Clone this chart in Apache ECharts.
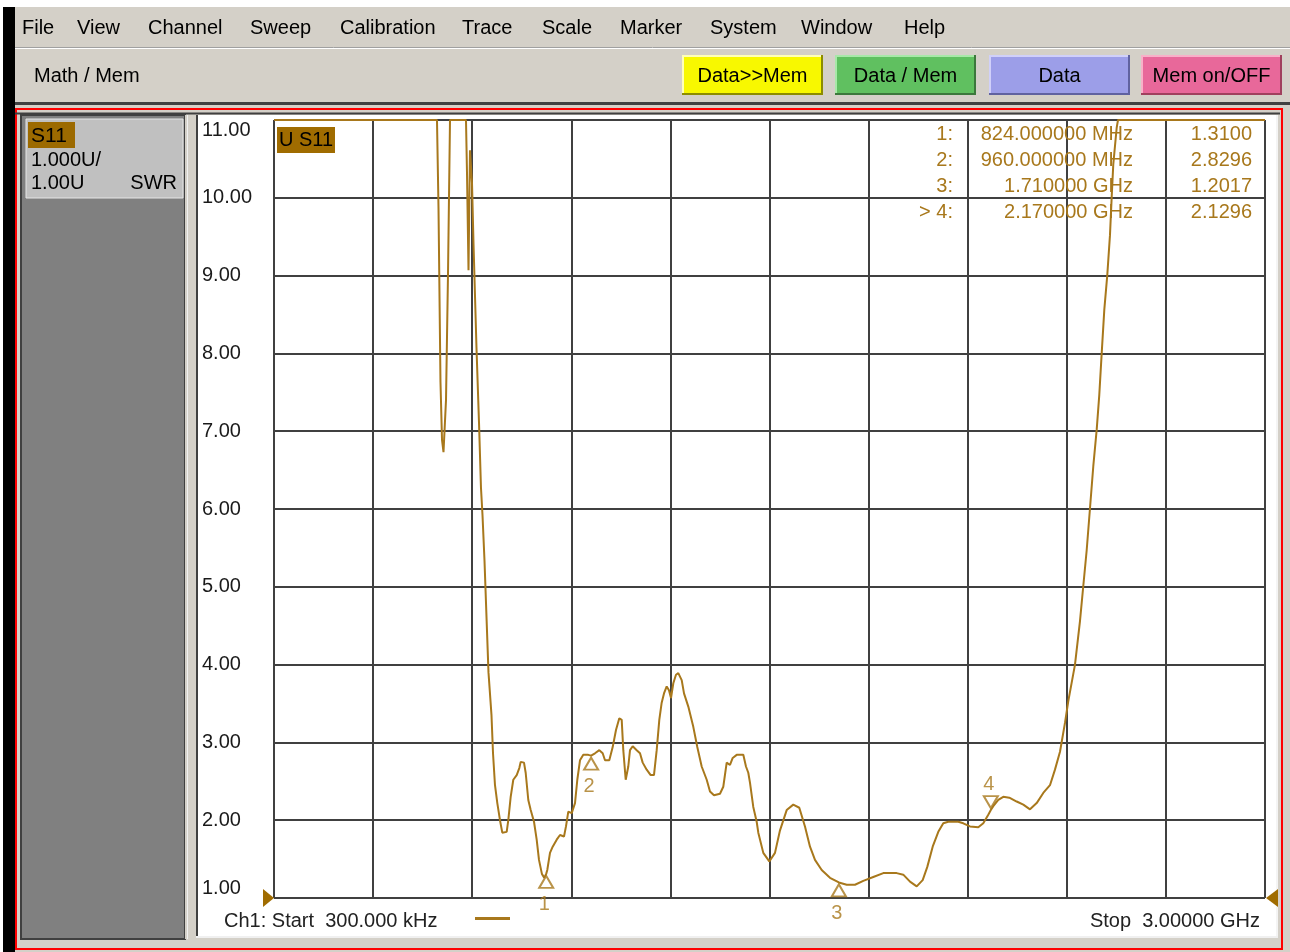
<!DOCTYPE html>
<html><head><meta charset="utf-8">
<script src="https://cdn.jsdelivr.net/npm/echarts@6/dist/echarts.min.js"></script>
<style>html,body{margin:0;padding:0;background:#fff;overflow:hidden}#c{width:1290px;height:952px}</style>
</head><body><div id="c"></div>
<script>
// ---------- DATA ----------
// Trace: frequency (MHz) and SWR as displayed (values above 11 shown clamped at the top)
const freqMHz = [
  0.3, 493.4, 498.0, 504.0, 508.6, 513.1, 520.7, 526.7, 532.8, 581.2,
  584.2, 588.8, 593.3, 599.4, 603.9, 613.0, 620.6, 626.6, 631.2, 637.2,
  643.3, 649.3, 658.4, 663.0, 669.0, 676.0, 684.1, 691.1, 704.4, 709.3,
  716.5, 724.4, 734.7, 742.6, 746.8, 756.8, 761.9, 769.8, 777.1, 787.1,
  795.2, 802.2, 811.0, 818.0, 824.0, 827.3, 835.5, 843.7, 855.8, 865.8,
  877.9, 883.9, 890.9, 901.2, 911.2, 918.2, 926.3, 936.3, 951.4, 960.0,
  971.7, 984.8, 995.0, 1002.0, 1015.0, 1025.3, 1035.3, 1045.3, 1052.6, 1057.4,
  1064.7, 1072.5, 1077.7, 1085.9, 1098.0, 1108.0, 1116.1, 1128.2, 1140.3, 1150.3,
  1158.5, 1166.4, 1173.6, 1180.6, 1188.8, 1195.7, 1201.8, 1208.8, 1216.9, 1223.9,
  1234.2, 1241.2, 1254.2, 1269.3, 1281.4, 1294.7, 1309.9, 1319.9, 1332.0, 1350.1,
  1360.1, 1370.4, 1380.4, 1388.6, 1400.7, 1420.7, 1428.8, 1435.8, 1441.0, 1450.9,
  1461.2, 1466.1, 1481.2, 1499.4, 1516.6, 1531.8, 1552.0, 1572.0, 1590.2, 1607.4,
  1622.6, 1637.7, 1658.0, 1683.1, 1710.0, 1733.7, 1758.8, 1783.9, 1814.2, 1844.5,
  1885.0, 1905.0, 1925.3, 1945.6, 1963.7, 1977.7, 1994.0, 2011.0, 2026.1, 2041.2,
  2071.5, 2086.6, 2106.9, 2132.1, 2147.2, 2162.3, 2170.0, 2177.5, 2192.6, 2207.7,
  2225.9, 2248.3, 2268.3, 2288.6, 2308.8, 2328.8, 2349.1, 2364.2, 2379.4, 2394.5,
  2404.5, 2424.8, 2439.9, 2449.9, 2460.2, 2470.2, 2480.2, 2490.5, 2498.4, 2505.6,
  2513.5, 2522.6, 2530.7, 2535.9, 2540.7, 2551.0, 2555.0, 3000
];
const swr = [
  11, 11, 9.87, 7.63, 6.89, 6.73, 7.40, 9.01, 11, 11,
  10.33, 9.07, 10.61, 10.19, 9.42, 8.07, 7.11, 6.27, 5.92, 5.34,
  4.61, 3.90, 3.35, 2.86, 2.45, 2.22, 2.00, 1.84, 1.85, 2.00,
  2.30, 2.52, 2.58, 2.67, 2.75, 2.74, 2.61, 2.26, 2.13, 1.98,
  1.75, 1.49, 1.31, 1.26, 1.31, 1.36, 1.58, 1.66, 1.75, 1.81,
  1.79, 1.92, 2.11, 2.09, 2.22, 2.52, 2.77, 2.84, 2.84, 2.83,
  2.86, 2.90, 2.86, 2.77, 2.77, 2.94, 3.16, 3.31, 3.29, 2.90,
  2.52, 2.69, 2.90, 2.95, 2.90, 2.86, 2.74, 2.65, 2.58, 2.58,
  2.90, 3.29, 3.51, 3.63, 3.72, 3.67, 3.57, 3.76, 3.87, 3.89,
  3.80, 3.63, 3.46, 3.20, 2.94, 2.69, 2.52, 2.37, 2.32, 2.34,
  2.43, 2.74, 2.71, 2.80, 2.84, 2.84, 2.69, 2.61, 2.48, 2.17,
  1.98, 1.84, 1.58, 1.47, 1.58, 1.87, 2.13, 2.20, 2.16, 1.92,
  1.66, 1.49, 1.36, 1.26, 1.20, 1.17, 1.17, 1.22, 1.27, 1.32,
  1.32, 1.30, 1.21, 1.15, 1.23, 1.40, 1.66, 1.85, 1.96, 1.98,
  1.98, 1.96, 1.92, 1.91, 1.96, 2.07, 2.13, 2.18, 2.26, 2.30,
  2.29, 2.24, 2.20, 2.14, 2.22, 2.35, 2.45, 2.65, 2.88, 3.25,
  3.53, 4.00, 4.56, 5.01, 5.47, 6.01, 6.55, 7.02, 7.47, 8.00,
  8.56, 9.01, 9.52, 10.01, 10.43, 10.90, 11, 11
];
// Markers
const markerIds = ['1', '2', '3', '4'];
const markerFreqMHz = [824, 960, 1710, 2170];
const markerSwr = [1.3100, 2.8296, 1.2017, 2.1296];
const activeMarker = 3; // index of "> 4"
// Axis / sweep settings
const yMin = 1, yMax = 11, yStep = 1;
const startMHz = 0.3, stopMHz = 3000, xDivMHz = 300;
// UI texts
const menuItems = ['File', 'View', 'Channel', 'Sweep', 'Calibration', 'Trace', 'Scale', 'Marker', 'System', 'Window', 'Help'];
const buttonLabels = ['Data>>Mem', 'Data / Mem', 'Data', 'Mem on/OFF'];
const traceName = 'S11';
const scaleText = ['1.000U/', '1.00U', 'SWR'];

// ---------- LAYOUT / STYLE ----------
const FONT = '"Liberation Sans", Arial, sans-serif';
const TRACE = '#a8781c';
const menuX = [22, 77, 148, 250, 340, 462, 542, 620, 710, 801, 904];
const btnX = [682, 835, 989, 1141];
const btnFill = ['#f8f800', '#60c060', '#9c9ee8', '#e8689a'];
const btnLight = ['#ffffb8', '#a8e8a8', '#d0d0fa', '#f8b0c8'];
const btnDark = ['#8c8c00', '#3c783c', '#6062a0', '#a0405e'];

function R(x, y, w, h, fill, extra, z) {
  return { type: 'rect', silent: true, z: z === undefined ? -1 : z, shape: { x, y, width: w, height: h }, style: Object.assign({ fill }, extra || {}) };
}
function L(x1, y1, x2, y2, stroke, w, z) {
  return { type: 'line', silent: true, z: z === undefined ? -1 : z, shape: { x1, y1, x2, y2 }, style: { stroke, lineWidth: w || 1 } };
}
function T(x, y, text, o) {
  o = o || {};
  return { type: 'text', silent: true, z: o.z === undefined ? 1 : o.z, x, y,
    style: { text, fill: o.fill || '#111', fontSize: o.size || 20, fontFamily: FONT, align: o.align || 'left', verticalAlign: 'middle' } };
}
function fmtFreq(mhz) {
  return mhz < 1000 ? mhz.toFixed(6) + ' MHz' : (mhz / 1000).toFixed(6) + ' GHz';
}

const g = [];
// window chrome
g.push(R(3, 7, 12, 945, '#000'));
g.push(R(15, 7, 1275, 40, '#d4d0c8'));
g.push(L(15, 47.5, 1290, 47.5, '#a0a0a0', 1));
g.push(L(15, 48.5, 1290, 48.5, '#ffffff', 1));
g.push(R(15, 49, 1275, 53, '#d4d0c8'));
g.push(R(15, 102, 1275, 3, '#404040'));
g.push(R(15, 105, 1275, 847, '#d4d0c8'));
g.push(R(16, 109, 1266, 840, 'none', { stroke: '#ff0000', lineWidth: 2 }));
g.push(L(15, 113.5, 1280, 113.5, '#404040', 2));
// menu
menuItems.forEach((m, i) => g.push(T(menuX[i], 28, m, { fill: '#000' })));
// toolbar
g.push(T(34, 76, 'Math / Mem', { fill: '#000' }));
buttonLabels.forEach((b, i) => {
  const x = btnX[i], y = 55, w = 141, h = 40;
  g.push(R(x, y, w, h, btnFill[i]));
  g.push(L(x, y + 1, x + w, y + 1, btnLight[i], 2));
  g.push(L(x + 1, y, x + 1, y + h, btnLight[i], 2));
  g.push(L(x, y + h - 1, x + w, y + h - 1, btnDark[i], 2));
  g.push(L(x + w - 1, y, x + w - 1, y + h, btnDark[i], 2));
  g.push(T(x + w / 2, y + h / 2 + 1, b, { fill: '#000', align: 'center' }));
});
// left channel panel
g.push(R(21, 115, 164, 824, '#808080', { stroke: '#404040', lineWidth: 2 }));
g.push(R(26, 119, 157, 79, '#c0c0c0', { stroke: '#e6e6e6', lineWidth: 1 }));
g.push(R(28, 122, 47, 26, '#9c6a00'));
g.push(T(31, 136, traceName, { fill: '#000', size: 21 }));
g.push(T(31, 160, scaleText[0], { fill: '#000' }));
g.push(T(31, 183, scaleText[1], { fill: '#000' }));
g.push(T(177, 183, scaleText[2], { fill: '#000', align: 'right' }));
// separator
g.push(R(185, 115, 11, 824, '#d4d0c8'));
g.push(L(187.5, 115, 187.5, 939, '#f0f0f0', 1));
// plot panel
g.push(R(196, 115, 1080, 821, '#ffffff'));
g.push(L(197, 115, 197, 936, '#404040', 2));
g.push(L(1277, 115, 1277, 938, '#f4f4f4', 2));
g.push(L(196, 937, 1278, 937, '#f0f0f0', 2));
// trace label
g.push(R(277, 127, 58, 26, '#a06c00', null, 1));
g.push(T(279, 140, 'U ' + traceName, { fill: '#000', z: 2 }));
// marker table
markerIds.forEach((id, i) => {
  const y = 134 + i * 26.2;
  g.push(T(953, y, (i === activeMarker ? '> ' : '') + id + ':', { fill: TRACE, align: 'right' }));
  g.push(T(1133, y, fmtFreq(markerFreqMHz[i]), { fill: TRACE, align: 'right' }));
  g.push(T(1252, y, markerSwr[i].toFixed(4), { fill: TRACE, align: 'right' }));
});
// bottom annotation
g.push(T(224, 921, 'Ch1: Start  ' + (startMHz * 1000).toFixed(3) + ' kHz', { fill: '#222' }));
g.push(L(475, 918.5, 510, 918.5, TRACE, 3, 1));
g.push(T(1260, 921, 'Stop  ' + (stopMHz / 1000).toFixed(5) + ' GHz', { fill: '#222', align: 'right' }));
// reference-level triangles
g.push({ type: 'polygon', silent: true, z: 3, shape: { points: [[263, 889], [263, 907], [274, 898]] }, style: { fill: '#a06c00' } });
g.push({ type: 'polygon', silent: true, z: 3, shape: { points: [[1278, 889], [1278, 907], [1266, 898]] }, style: { fill: '#a06c00' } });

const traceData = freqMHz.map((f, i) => [f, swr[i]]);
const markerData = markerFreqMHz.map((f, i) => {
  const up = i !== activeMarker;
  return { value: [f, markerSwr[i]], symbolRotate: up ? 0 : 180, symbolOffset: [0, up ? 8 : -8] };
});
const markerLabelData = markerFreqMHz.map((f, i) => {
  const up = i !== activeMarker;
  return { value: [f, markerSwr[i]], label: { offset: [-2, up ? 31 : -26] } };
});

const chart = echarts.init(document.getElementById('c'), null, { renderer: 'canvas', width: 1290, height: 952 });
chart.setOption({
  backgroundColor: '#ffffff',
  animation: false,
  graphic: { elements: g },
  grid: { left: 274, top: 120, width: 991, height: 778, containLabel: false },
  xAxis: {
    type: 'value', min: 0, max: stopMHz, interval: xDivMHz,
    axisLine: { show: false }, axisTick: { show: false }, axisLabel: { show: false },
    splitLine: { show: true, lineStyle: { color: '#404040', width: 2 } }
  },
  yAxis: {
    type: 'value', min: yMin, max: yMax, interval: yStep,
    axisLine: { show: false }, axisTick: { show: false },
    axisLabel: {
      formatter: v => v.toFixed(2), align: 'left', margin: 72, fontSize: 20, color: '#1a1a1a', fontFamily: FONT,
      verticalAlignMaxLabel: 'top', verticalAlignMinLabel: 'bottom'
    },
    splitLine: { show: true, lineStyle: { color: '#404040', width: 2 } }
  },
  series: [
    {
      type: 'line', data: traceData, showSymbol: false, z: 3, clip: true,
      lineStyle: { color: TRACE, width: 2 }, itemStyle: { color: TRACE }
    },
    {
      type: 'scatter', data: markerData, z: 4, symbol: 'emptyTriangle', symbolSize: [14, 12],
      itemStyle: { color: TRACE, borderColor: TRACE, borderWidth: 1.6 }
    },
    {
      type: 'scatter', data: markerLabelData, z: 5, symbolSize: 1, itemStyle: { color: 'rgba(0,0,0,0)' },
      label: { show: true, position: 'inside', formatter: p => markerIds[p.dataIndex], color: TRACE, fontSize: 20, fontFamily: FONT }
    }
  ]
});
</script>
</body></html>
